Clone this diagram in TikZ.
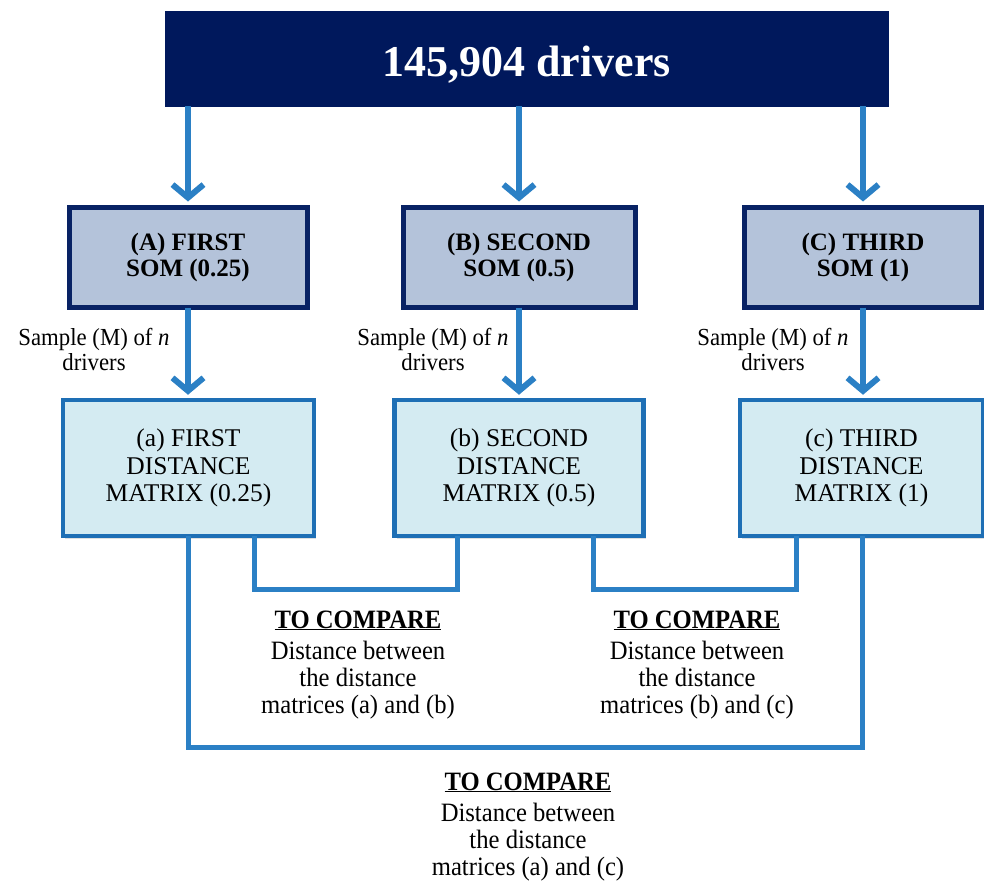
\documentclass[tikz,border=0pt]{standalone}
\usepackage{fontspec}
\setmainfont{Liberation Serif}
\newfontfamily\narrowserif{Liberation Serif}[FakeStretch=0.93]
\usetikzlibrary{arrows.meta,shadows}
\definecolor{navy}{RGB}{0,24,92}
\definecolor{navyedge}{RGB}{8,34,100}
\definecolor{somfill}{RGB}{180,195,218}
\definecolor{distfill}{RGB}{212,235,242}
\definecolor{distedge}{RGB}{30,111,181}
\definecolor{arrblue}{RGB}{43,128,197}
\tikzset{
  topbox/.style={draw=navy,fill=navy,text=white,inner sep=0pt,text height=35pt,text depth=0pt,
    font=\fontsize{44}{50}\selectfont\bfseries},
  sombox/.style={draw=navyedge,fill=somfill,line width=5pt,inner sep=0pt,align=center,
    font=\fontsize{25}{26}\selectfont\bfseries,
    drop shadow={opacity=0.25,shadow xshift=2pt,shadow yshift=-3pt}},
  distbox/.style={draw=distedge,fill=distfill,line width=4.5pt,inner sep=0pt,align=center,
    font=\fontsize{25.5}{27.5}\selectfont,
    drop shadow={opacity=0.25,shadow xshift=2pt,shadow yshift=-3pt}},
  arr/.style={draw=arrblue,line width=6pt,-{Straight Barb[length=13pt,width=31pt,line width=6pt]}},
  link/.style={draw=arrblue,line width=5pt,line cap=rect},
  samplelbl/.style={align=center,inner sep=0pt,font=\narrowserif\fontsize{24.5}{25}\selectfont},
  cmplbl/.style={align=center,inner sep=0pt,font=\narrowserif\fontsize{26.5}{27}\selectfont}
}
\begin{document}
\begin{tikzpicture}[x=1pt,y=-1pt]
\useasboundingbox (0,0) rectangle (984,881);
\node[topbox,minimum width=723pt,minimum height=95pt] (top) at (526.5,58.5) {145,904 drivers};

\node[sombox,minimum width=238pt,minimum height=100pt] (A) at (188,257) {(A) FIRST\\SOM (0.25)};
\node[sombox,minimum width=232pt,minimum height=100pt] (B) at (519,257) {(B) SECOND\\SOM (0.5)};
\node[sombox,minimum width=237pt,minimum height=100pt] (C) at (863,257) {(C) THIRD\\SOM (1)};

\node[distbox,minimum width=251pt,minimum height=136pt] (a) at (188.5,468) {(a) FIRST\\DISTANCE\\MATRIX (0.25)};
\node[distbox,minimum width=249pt,minimum height=136pt] (b) at (519,468) {(b) SECOND\\DISTANCE\\MATRIX (0.5)};
\node[distbox,minimum width=243pt,minimum height=136pt] (c) at (861.5,468) {(c) THIRD\\DISTANCE\\MATRIX (1)};

\draw[arr] (A.north |- top.south) -- ([yshift=3pt]A.north);
\draw[arr] (B.north |- top.south) -- ([yshift=3pt]B.north);
\draw[arr] (C.north |- top.south) -- ([yshift=3pt]C.north);

\draw[arr] ([yshift=2pt]A.south) -- ([yshift=3pt]a.north -| A.south);
\draw[arr] ([yshift=2pt]B.south) -- ([yshift=3pt]b.north -| B.south);
\draw[arr] ([yshift=2pt]C.south) -- ([yshift=3pt]c.north -| C.south);

\node[samplelbl,anchor=base] (sA) at (94,370) {Sample (M) of \textit{n}\\drivers};
\node[samplelbl,anchor=base] (sB) at (433,370) {Sample (M) of \textit{n}\\drivers};
\node[samplelbl,anchor=base] (sC) at (773,370) {Sample (M) of \textit{n}\\drivers};

\coordinate (ab1) at (254,589);
\coordinate (ab2) at (457,589);
\coordinate (bc1) at (593,589);
\coordinate (bc2) at (796,589);
\coordinate (ac1) at (188,747);
\coordinate (ac2) at (862,747);

\draw[link] (a.south -| ab1) -- (ab1) -- (ab2) -- (b.south -| ab2);
\draw[link] (b.south -| bc1) -- (bc1) -- (bc2) -- (c.south -| bc2);
\draw[link] (a.south -| ac1) -- (ac1) -- (ac2) -- (c.south -| ac2);

\node[cmplbl,anchor=base] (cab) at (358,713) {\textbf{\underline{TO COMPARE}}\\[4pt]Distance between\\the distance\\matrices (a) and (b)};
\node[cmplbl,anchor=base] (cbc) at (697,713) {\textbf{\underline{TO COMPARE}}\\[4pt]Distance between\\the distance\\matrices (b) and (c)};
\node[cmplbl,anchor=base] (cac) at (528,875) {\textbf{\underline{TO COMPARE}}\\[4pt]Distance between\\the distance\\matrices (a) and (c)};
\end{tikzpicture}
\end{document}
